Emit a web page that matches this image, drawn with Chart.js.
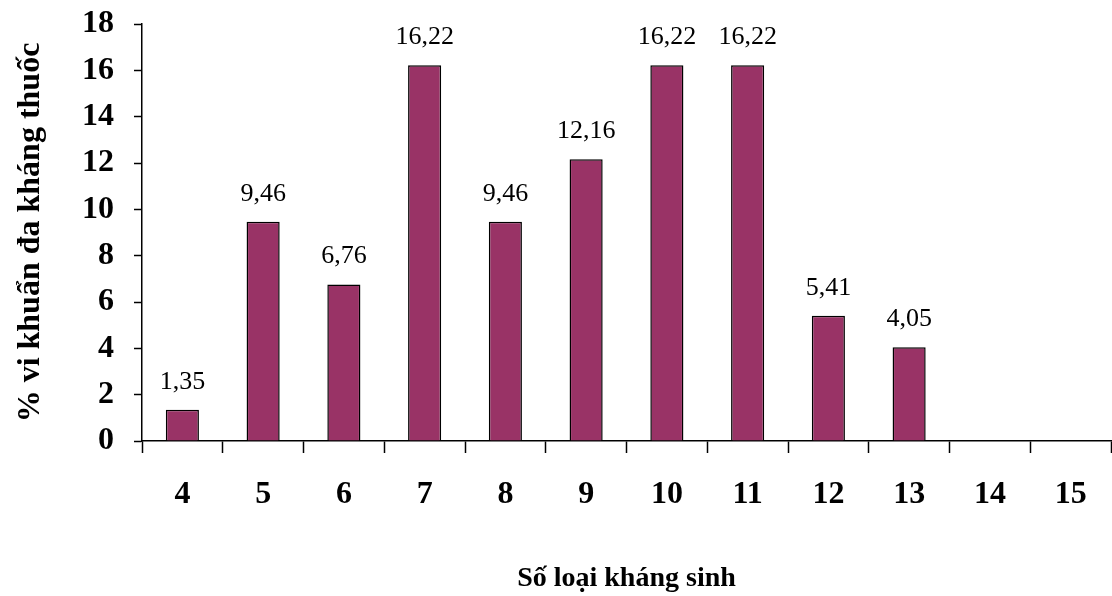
<!DOCTYPE html>
<html>
<head>
<meta charset="utf-8">
<script src="https://cdn.jsdelivr.net/npm/chart.js@4/dist/chart.umd.min.js"></script>
<style>
  html, body { margin: 0; padding: 0; background: #fff; }
  #wrap { width: 1112px; height: 596px; position: relative; }
</style>
</head>
<body>
<div id="wrap"><canvas id="c"></canvas></div>
<script>
// Number of antibiotics a strain resists
const categories = ['4', '5', '6', '7', '8', '9', '10', '11', '12', '13', '14', '15'];
// Share of multi-resistant bacteria (%)
const percentValues = [1.35, 9.46, 6.76, 16.22, 9.46, 12.16, 16.22, 16.22, 5.41, 4.05, null, null];
const yTickValues = [0, 2, 4, 6, 8, 10, 12, 14, 16, 18];

const SERIF = '"Liberation Serif", "Times New Roman", serif';

// Writes each bar's value above it, with a decimal comma
const valueLabels = {
  id: 'valueLabels',
  afterDatasetsDraw(chart) {
    const ctx = chart.ctx;
    const meta = chart.getDatasetMeta(0);
    ctx.save();
    ctx.font = '26px ' + SERIF;
    ctx.fillStyle = '#000';
    ctx.textAlign = 'center';
    ctx.textBaseline = 'alphabetic';
    meta.data.forEach((bar, i) => {
      const v = percentValues[i];
      if (v === null || v === undefined) return;
      ctx.fillText(v.toFixed(2).replace('.', ','), bar.x, bar.y - 21);
    });
    ctx.restore();
  }
};

new Chart(document.getElementById('c'), {
  type: 'bar',
  data: {
    labels: categories,
    datasets: [{
      data: percentValues,
      backgroundColor: '#993366',
      borderColor: '#000',
      borderWidth: 1.5,
      borderSkipped: 'bottom',
      barPercentage: 0.41,
      categoryPercentage: 1
    }]
  },
  options: {
    responsive: true,
    maintainAspectRatio: false,
    animation: false,
    devicePixelRatio: 1,
    layout: { padding: { top: 24, right: 1, left: 0, bottom: 0 } },
    plugins: {
      legend: { display: false },
      tooltip: { enabled: false }
    },
    scales: {
      x: {
        grid: {
          display: true,
          drawOnChartArea: false,
          drawTicks: true,
          tickLength: 12,
          tickWidth: 1.5,
          tickColor: '#000',
          offset: true
        },
        border: { display: true, color: '#000', width: 1.5 },
        ticks: {
          color: '#000',
          font: { family: SERIF, size: 32, weight: 'bold' },
          padding: 23,
          maxRotation: 0
        },
        title: {
          display: true,
          text: 'Số loại kháng sinh',
          color: '#000',
          font: { family: SERIF, size: 28, weight: 'bold' },
          padding: { top: 0, bottom: 0 }
        },
        afterFit(scale) {
          scale.height = 155;
          scale.paddingLeft = 0;
          scale.paddingRight = 0;
        }
      },
      y: {
        min: 0,
        max: 18,
        afterBuildTicks(scale) { scale.ticks = yTickValues.map(v => ({ value: v })); },
        grid: {
          display: true,
          drawOnChartArea: false,
          drawTicks: true,
          tickLength: 8,
          tickWidth: 1.5,
          tickColor: '#000'
        },
        border: { display: true, color: '#000', width: 1.5 },
        ticks: {
          color: '#000',
          font: { family: SERIF, size: 32, weight: 'bold' },
          padding: 20
        },
        title: {
          display: true,
          text: '% vi khuẩn đa kháng thuốc',
          color: '#000',
          font: { family: SERIF, size: 32, weight: 'bold' },
          padding: { top: 12, bottom: 0 }
        },
        afterFit(scale) {
          scale.width = 142;
          scale.paddingTop = 0;
          scale.paddingBottom = 0;
        }
      }
    }
  },
  plugins: [valueLabels]
});
</script>
</body>
</html>
